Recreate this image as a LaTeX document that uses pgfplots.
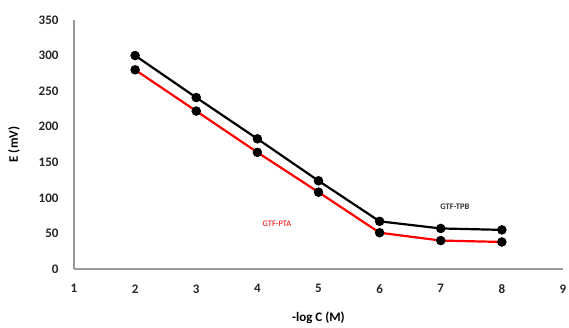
\documentclass[border=0pt]{standalone}
\usepackage{pgfplots}
\pgfplotsset{compat=1.18}
\usepackage{fontspec}
\setmainfont{Carlito}
\begin{document}
\begin{tikzpicture}
\useasboundingbox (-74pt,-58pt) rectangle (495pt,269pt);
\begin{axis}[
  at={(0,0)}, anchor=south west,
  scale only axis, width=489pt, height=249pt,
  xmin=1, xmax=9, ymin=0, ymax=350,
  xtick={1,...,9}, ytick={0,50,...,350},
  axis x line*=bottom, axis y line*=left,
  axis line style={draw=gray!80, line width=1.5pt, -},
  major tick length=0pt,
  tick label style={font=\fontsize{13}{15}\selectfont\bfseries, text=black!85},
  xticklabel style={yshift=-12pt},
  yticklabel style={xshift=-12pt},
  /pgf/number format/assume math mode=true,
  xlabel={\bfseries -log C (M)}, ylabel={\bfseries E (mV)},
  label style={font=\fontsize{13}{15}\selectfont},
  xlabel style={yshift=-11pt}, ylabel style={yshift=12pt},
  clip=false,
]
\addplot[black, line width=2.2pt, mark=*, mark size=3.6pt, mark options={fill=black}] coordinates {
(2,300) (3,241) (4,183) (5,124) (6,67) (7,57) (8,55)};
\addplot[red, line width=2.2pt, mark=*, mark size=3.6pt, mark options={draw=black, fill=black}] coordinates {
(2,280) (3,222) (4,164) (5,108) (6,51) (7,40) (8,38)};
\node[font=\fontsize{8.5}{9}\selectfont\bfseries, text=black!80] at (axis cs:7.23,87) {GTF-TPB};
\node[font=\fontsize{8.5}{9}\selectfont, text=red] at (axis cs:4.32,63) {GTF-PTA};
\end{axis}
\end{tikzpicture}
\end{document}
